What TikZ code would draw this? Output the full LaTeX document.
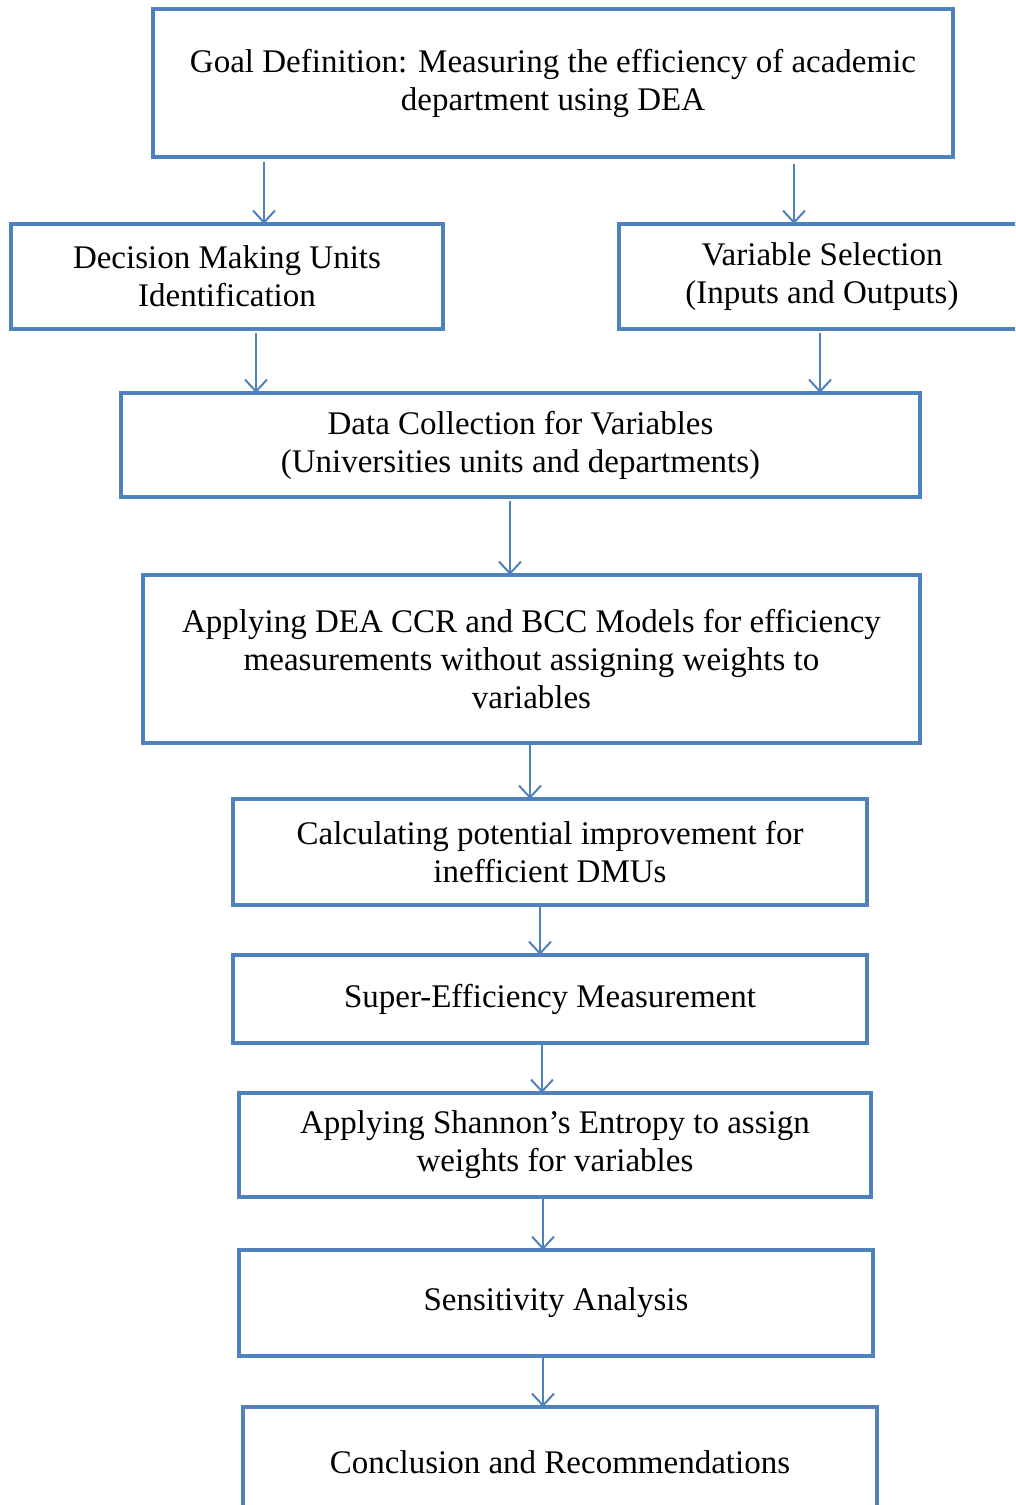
\documentclass[tikz,border=0pt]{standalone}
\usepackage{fontspec}
\setmainfont{Liberation Serif}
\usetikzlibrary{arrows.meta}
\definecolor{boxblue}{HTML}{4F81BD}
\begin{document}
\begin{tikzpicture}[x=1pt,y=-1pt,
  box/.style={draw=boxblue, line width=4pt, inner sep=0pt, outer sep=0pt, align=center,
    font=\fontsize{33}{38}\selectfont},
  arr/.style={draw=boxblue, line width=2pt, -{Straight Barb[length=12pt,width=22pt,line width=2pt]}}]
\useasboundingbox (0,0) rectangle (1015,1505);
\clip (0,0) rectangle (1015,1505);
\node[box, minimum width=800pt, minimum height=148pt] (goal) at (553,83) {Goal Definition: Measuring the efficiency of academic\\department using DEA};
\node[box, minimum width=432pt, minimum height=105pt] (dmu) at (227,276.5) {Decision Making Units\\Identification};
\node[box, minimum width=406pt, minimum height=105pt] (var) at (822,276.5) {Variable Selection\\(Inputs and Outputs)};
\node[box, minimum width=799pt, minimum height=104pt] (data) at (520.5,445) {Data Collection for Variables\\(Universities units and departments)};
\node[box, minimum width=777pt, minimum height=168pt] (dea) at (531.5,659) {Applying DEA CCR and BCC Models for efficiency\\measurements without assigning weights to\\variables};
\node[box, minimum width=634pt, minimum height=106pt] (calc) at (550,852) {Calculating potential improvement for\\inefficient DMUs};
\node[box, minimum width=634pt, minimum height=88pt] (super) at (550,999) {Super-Efficiency Measurement};
\node[box, minimum width=632pt, minimum height=104pt] (shannon) at (555,1145) {Applying Shannon’s Entropy to assign\\weights for variables};
\node[box, minimum width=634pt, minimum height=106pt] (sens) at (556,1303) {Sensitivity Analysis};
\node[box, minimum width=634pt, minimum height=110pt] (concl) at (560,1462) {Conclusion and Recommendations};
\draw[arr] ([xshift=-289pt,yshift=-5pt]goal.south) -- ([xshift=37pt]dmu.north);
\draw[arr] ([xshift=241pt,yshift=-7pt]goal.south) -- ([xshift=-28pt]var.north);
\draw[arr] ([xshift=29pt,yshift=-4pt]dmu.south) -- ([xshift=-264.5pt]data.north);
\draw[arr] ([xshift=-2pt,yshift=-4pt]var.south) -- ([xshift=299.5pt]data.north);
\draw[arr] ([xshift=-10.5pt,yshift=-4pt]data.south) -- ([xshift=-21.5pt]dea.north);
\draw[arr] ([xshift=-1.5pt,yshift=-2pt]dea.south) -- ([xshift=-20pt]calc.north);
\draw[arr] ([xshift=-10pt,yshift=-2pt]calc.south) -- ([xshift=-10pt]super.north);
\draw[arr] ([xshift=-8pt,yshift=-2pt]super.south) -- ([xshift=-13pt]shannon.north);
\draw[arr] ([xshift=-12pt,yshift=-2pt]shannon.south) -- ([xshift=-13pt]sens.north);
\draw[arr] ([xshift=-13pt,yshift=-1pt]sens.south) -- ([xshift=-17pt]concl.north);
\end{tikzpicture}
\end{document}
